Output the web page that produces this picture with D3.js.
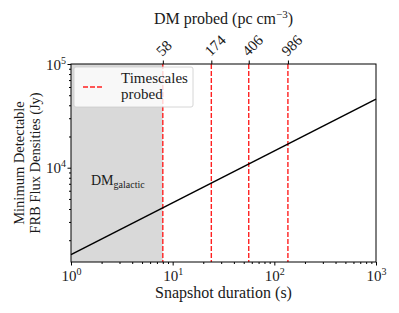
<!DOCTYPE html>
<html>
<head>
<meta charset="utf-8">
<script src="https://cdn.jsdelivr.net/npm/d3@7"></script>
<style>
  body { margin: 0; background: #fff; }
</style>
</head>
<body>
<svg id="chart" width="399" height="313" font-family="Liberation Serif"></svg>
<script>
// snapshot duration (s) vs minimum detectable flux (Jy)
const durations = [1, 1000];
const fluxes = [1450, 45900];

// timescales probed and the DM each corresponds to
const probedDurations = [8, 24, 56, 136];
const probedDM = ["58", "174", "406", "986"];

const galacticRange = [1, 8];

const xTicks = [1, 10, 100, 1000];
const yTicks = [1e4, 1e5];

const margins = { top: 64, right: 23, bottom: 51, left: 71 };
const width = 399, height = 313;
const svg = d3.select("#chart");
const textColor = "#1a1a1a";

const xScale = d3.scaleLog()
    .domain([1, 1000])
    .range([margins.left, width - margins.right]);
const yScale = d3.scaleLog()
    .domain([1233, 1e5])
    .range([height - margins.bottom, margins.top]);

// shaded galactic DM region
svg.append("rect")
    .attr("x", xScale(galacticRange[0]))
    .attr("y", margins.top)
    .attr("width", xScale(galacticRange[1]) - xScale(galacticRange[0]))
    .attr("height", height - margins.bottom - margins.top)
    .attr("fill", "#d9d9d9");

const dmText = svg.append("text")
    .attr("x", 91)
    .attr("y", 185)
    .attr("font-size", 14)
    .attr("fill", textColor);
dmText.append("tspan").text("DM");
dmText.append("tspan").attr("font-size", 10).attr("dy", 3).text("galactic");

// vertical dashed lines
svg.selectAll(".probe")
    .data(probedDurations)
    .join("line")
    .attr("x1", d => xScale(d))
    .attr("x2", d => xScale(d))
    .attr("y1", margins.top)
    .attr("y2", height - margins.bottom)
    .attr("stroke", "#ff2020")
    .attr("stroke-width", 1.4)
    .attr("stroke-dasharray", "5,2");

// sensitivity line
const line = d3.line()
    .x((d, i) => xScale(durations[i]))
    .y(d => yScale(d));
svg.append("path")
    .datum(fluxes)
    .attr("fill", "none")
    .attr("stroke", "black")
    .attr("stroke-width", 1.5)
    .attr("d", line);

// legend
const legend = svg.append("g");
legend.append("rect")
    .attr("x", 74).attr("y", 67)
    .attr("width", 119).attr("height", 40)
    .attr("rx", 2)
    .attr("fill", "white").attr("fill-opacity", 0.8)
    .attr("stroke", "#cccccc").attr("stroke-width", 0.8);
legend.append("line")
    .attr("x1", 83).attr("x2", 104)
    .attr("y1", 87).attr("y2", 87)
    .attr("stroke", "#ff2020")
    .attr("stroke-width", 1.4)
    .attr("stroke-dasharray", "5,2");
legend.append("text").attr("x", 121).attr("y", 83).attr("font-size", 15).attr("fill", textColor).text("Timescales");
legend.append("text").attr("x", 121).attr("y", 99).attr("font-size", 15).attr("fill", textColor).text("probed");

// frame
svg.append("rect")
    .attr("x", margins.left).attr("y", margins.top)
    .attr("width", width - margins.right - margins.left)
    .attr("height", height - margins.bottom - margins.top)
    .attr("fill", "none")
    .attr("stroke", "black")
    .attr("stroke-width", 1);

function powerLabel(sel, exp) {
    sel.append("tspan").text("10");
    sel.append("tspan").attr("font-size", 10).attr("dy", -6).text(exp);
}

// bottom axis
const xMinor = [];
for (let d = 1; d < 1000; d *= 10) for (let k = 2; k < 10; k++) xMinor.push(d * k);
svg.append("g")
    .attr("transform", `translate(0, ${height - margins.bottom})`)
    .call(d3.axisBottom(xScale).tickValues(xMinor).tickSize(2).tickFormat(""))
    .call(g => g.select(".domain").remove());
const xAxis = svg.append("g")
    .attr("transform", `translate(0, ${height - margins.bottom})`)
    .call(d3.axisBottom(xScale).tickValues(xTicks).tickSize(3.5).tickFormat(""));
xAxis.select(".domain").remove();
xAxis.selectAll(".tick").each(function(d) {
    const t = d3.select(this).append("text")
        .attr("y", 19).attr("text-anchor", "middle").attr("font-size", 15)
        .attr("font-family", "Liberation Serif").attr("fill", textColor);
    powerLabel(t, Math.round(Math.log10(d)));
});

// left axis
const yMinor = [];
for (let d = 1000; d < 1e5; d *= 10) for (let k = 2; k < 10; k++) if (d * k > 1233) yMinor.push(d * k);
svg.append("g")
    .attr("transform", `translate(${margins.left}, 0)`)
    .call(d3.axisLeft(yScale).tickValues(yMinor).tickSize(2).tickFormat(""))
    .call(g => g.select(".domain").remove());
const yAxis = svg.append("g")
    .attr("transform", `translate(${margins.left}, 0)`)
    .call(d3.axisLeft(yScale).tickValues(yTicks).tickSize(3.5).tickFormat(""));
yAxis.select(".domain").remove();
yAxis.selectAll(".tick").each(function(d) {
    const t = d3.select(this).append("text")
        .attr("x", -5).attr("y", 5).attr("text-anchor", "end").attr("font-size", 15)
        .attr("font-family", "Liberation Serif").attr("fill", textColor);
    powerLabel(t, Math.round(Math.log10(d)));
});

// top axis: DM values
const topAxis = svg.append("g")
    .attr("transform", `translate(0, ${margins.top})`)
    .call(d3.axisTop(xScale).tickValues(probedDurations).tickSize(3.5).tickFormat(""));
topAxis.select(".domain").remove();
topAxis.selectAll(".tick").append("text")
    .attr("transform", "translate(-1, -7) rotate(-45)")
    .attr("text-anchor", "start")
    .attr("font-size", 15)
    .attr("font-family", "Liberation Serif")
    .attr("fill", textColor)
    .text((d, i) => probedDM[i]);

// axis titles
svg.append("text")
    .attr("x", (margins.left + width - margins.right) / 2)
    .attr("y", 298)
    .attr("text-anchor", "middle")
    .attr("font-size", 16)
    .attr("fill", textColor)
    .text("Snapshot duration (s)");

const topTitle = svg.append("text")
    .attr("x", (margins.left + width - margins.right) / 2)
    .attr("y", 24)
    .attr("text-anchor", "middle")
    .attr("font-size", 16)
    .attr("fill", textColor);
topTitle.append("tspan").text("DM probed (pc cm");
topTitle.append("tspan").attr("font-size", 11).attr("dy", -6).text("−3");
topTitle.append("tspan").attr("dy", 6).text(")");

const yMid = (margins.top + height - margins.bottom) / 2;
svg.append("text")
    .attr("transform", `translate(24, ${yMid}) rotate(-90)`)
    .attr("text-anchor", "middle")
    .attr("font-size", 14.5)
    .attr("fill", textColor)
    .text("Minimum Detectable");
svg.append("text")
    .attr("transform", `translate(40, ${yMid}) rotate(-90)`)
    .attr("text-anchor", "middle")
    .attr("font-size", 14.5)
    .attr("fill", textColor)
    .text("FRB Flux Densities (Jy)");
</script>
</body>
</html>
